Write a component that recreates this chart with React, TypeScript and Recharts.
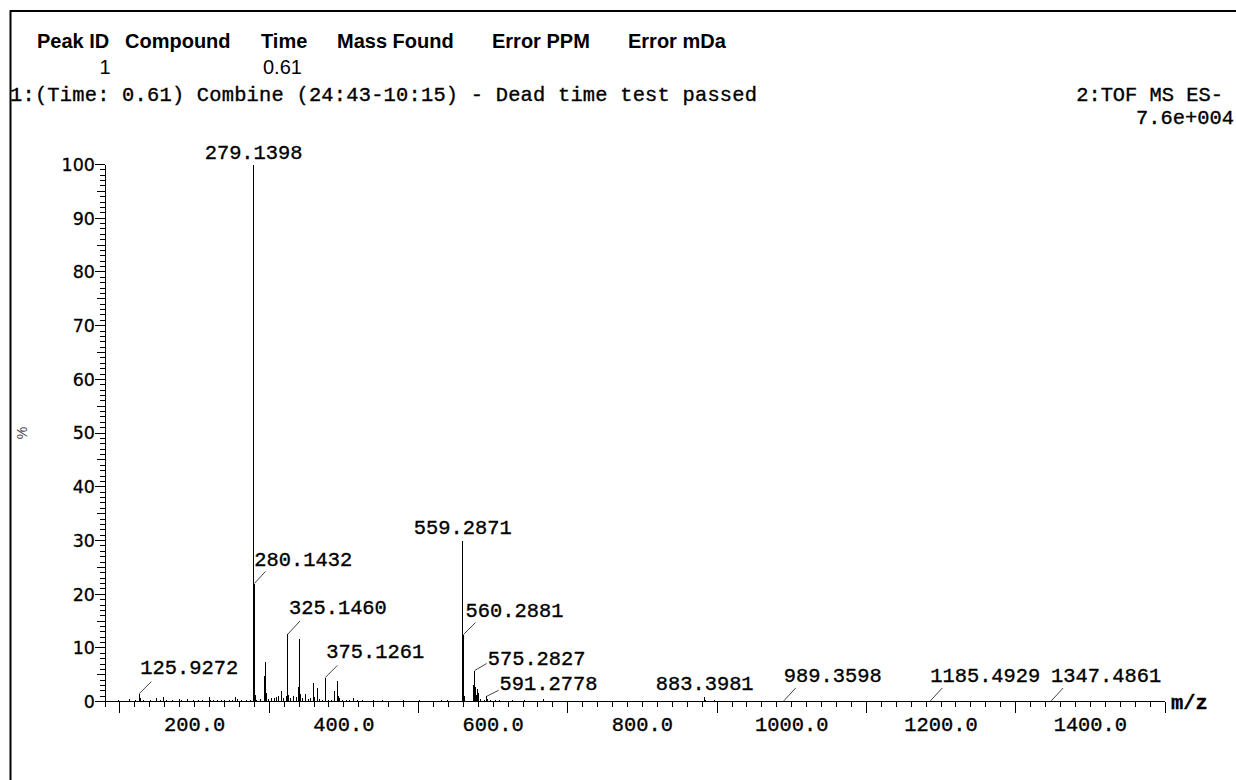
import React from 'react';
import { ComposedChart, Bar, XAxis, YAxis } from 'recharts';

const WIDTH = 1236;
const HEIGHT = 780;

const MONO = "'Liberation Mono', 'Courier New', monospace";
const SANS = "'Liberation Sans', Arial, sans-serif";
const TICK_SANS = "'DejaVu Sans', Verdana, sans-serif";

// Centroided spectrum: m/z of each stick
const peakMz: number[] = [
  88.0, 97.9, 104.5, 113.0, 121.0, 125.9272, 127.0, 131.0, 141.0, 149.0, 155.0, 159.0, 162.0,
  171.0, 180.5, 183.0, 190.0, 199.0, 205.0, 211.0, 219.7, 222.0, 225.0, 231.0, 236.0, 240.7,
  247.0, 251.0, 255.5, 258.0, 263.0, 270.0, 275.0,
  279.1398, 280.1432, 281.14, 283.0, 288.0, 293.5, 295.6, 296.6, 299.0, 303.0, 307.0, 310.0,
  313.0, 316.7, 319.0, 323.0, 325.146, 326.15, 329.0, 333.0, 336.0, 339.9, 341.2, 342.2, 345.0,
  348.0, 352.0, 356.0, 359.0, 360.5, 364.4, 368.0, 371.0, 375.1261, 376.1, 380.0, 384.0, 388.0,
  391.7, 392.7, 394.0, 398.0, 403.0, 408.0, 412.6, 418.0, 425.0, 432.0, 440.0, 452.0, 466.0,
  480.0, 492.0, 502.0, 520.0, 531.0, 539.5, 548.0,
  559.2871, 560.2881, 561.29, 573.4, 575.2827, 576.29, 577.3, 579.3, 581.0, 583.0, 589.0,
  591.2778, 592.3, 596.0, 603.0, 609.0, 617.0, 626.6, 634.0, 642.0, 650.0, 659.0, 667.0, 676.0,
  690.0, 705.0, 735.0, 761.0, 801.0, 858.0, 883.3981, 884.4, 897.0, 989.3598, 1185.4929,
  1347.4861,
];

// Relative intensity (%) of each stick, same order as peakMz
const peakIntensity: number[] = [
  0.2, 0.3, 0.2, 0.5, 0.3, 1.5, 0.6, 0.3, 0.3, 0.7, 0.3, 0.9, 0.4,
  0.3, 0.5, 0.3, 0.45, 0.3, 0.3, 0.3, 0.8, 0.4, 0.4, 0.3, 0.3, 0.35,
  0.3, 0.4, 0.8, 0.5, 0.3, 0.3, 0.3,
  100, 22.0, 1.3, 0.4, 0.5, 4.8, 7.3, 1.6, 0.5, 0.6, 0.7, 0.9,
  1.0, 1.9, 0.6, 1.0, 12.6, 1.2, 0.6, 1.0, 0.8, 2.8, 11.6, 1.5, 0.6,
  1.5, 0.5, 0.6, 3.4, 0.8, 2.5, 0.5, 0.4, 4.5, 1.0, 0.4, 0.4, 1.9,
  3.9, 1.0, 0.6, 0.4, 0.3, 0.3, 0.6, 0.3, 0.3, 0.2, 0.3, 0.3, 0.2,
  0.3, 0.2, 0.3, 0.2, 0.3, 0.3, 0.2,
  30.0, 12.5, 1.0, 3.1, 5.8, 2.8, 1.2, 2.3, 1.6, 0.5, 0.4,
  1.0, 0.5, 0.3, 0.3, 0.4, 0.2, 0.3, 0.2, 0.3, 0.2, 0.2, 0.5, 0.2,
  0.2, 0.2, 0.2, 0.2, 0.15, 0.2, 0.8, 0.3, 0.4, 0.15, 0.12,
  0.12,
];

// Peaks annotated with their m/z
const annotatedMz: string[] = [
  '125.9272', '279.1398', '280.1432', '325.1460', '375.1261', '559.2871', '560.2881',
  '575.2827', '591.2778', '883.3981', '989.3598', '1185.4929', '1347.4861',
];

// Where each annotation sits relative to the top of its stick
type Placement =
  | { kind: 'above'; dy: number }
  | { kind: 'leader'; lx: number; ly: number; tx: number; ty: number };

const annotationPlacement: Record<string, Placement> = {
  '125.9272': { kind: 'leader', lx: 12, ly: -12, tx: 1, ty: -20 },
  '279.1398': { kind: 'above', dy: -6 },
  '280.1432': { kind: 'leader', lx: 11, ly: -12, tx: 0, ty: -18 },
  '325.1460': { kind: 'leader', lx: 12, ly: -13, tx: 1, ty: -20 },
  '375.1261': { kind: 'leader', lx: 12, ly: -12, tx: 1, ty: -20 },
  '559.2871': { kind: 'above', dy: -7 },
  '560.2881': { kind: 'leader', lx: 12, ly: -12, tx: 2, ty: -18 },
  '575.2827': { kind: 'leader', lx: 12, ly: -7, tx: 13, ty: -6 },
  '591.2778': { kind: 'leader', lx: 12, ly: -6, tx: 13, ty: -6 },
  '883.3981': { kind: 'above', dy: -7 },
  '989.3598': { kind: 'leader', lx: 12, ly: -13, tx: 0, ty: -19 },
  '1185.4929': { kind: 'leader', lx: 12, ly: -13, tx: 0, ty: -19 },
  '1347.4861': { kind: 'leader', lx: 12, ly: -13, tx: 0, ty: -19 },
};

// Axis ticks
const xDomain: [number, number] = [80, 1500];
const xLabeledTicks: number[] = [200, 400, 600, 800, 1000, 1200, 1400];
const xTickStep = 20;
const yLabeledTicks: number[] = [0, 10, 20, 30, 40, 50, 60, 70, 80, 90, 100];
const yTickStep = 1;

const xTicks: number[] = [];
for (let v = xDomain[0]; v <= xDomain[1]; v += xTickStep) xTicks.push(v);
const yTicks: number[] = [];
for (let v = 0; v <= 100; v += yTickStep) yTicks.push(v);

const spectrum = peakMz.map((mz, i) => {
  const text = annotatedMz.find((a) => Math.abs(parseFloat(a) - mz) < 1e-6);
  return { mz, intensity: peakIntensity[i], label: text ?? '' };
});

// Shared look of the monospaced print text
const monoText = {
  fontFamily: MONO,
  fontSize: 20.4,
  fill: '#000',
  stroke: '#000',
  strokeWidth: 0.35,
};

const Stick = (props: any) => {
  const { x, y, width, height } = props;
  if (x == null || y == null) return null;
  const payload = props.payload ?? props;
  const cx = x + width / 2;
  const top = y;
  const bottom = y + height;
  const label: string = payload.label;
  const place = label ? annotationPlacement[label] : undefined;
  return (
    <g>
      <line x1={cx} x2={cx} y1={top} y2={bottom} stroke="#000" strokeWidth={1} shapeRendering="crispEdges" />
      {place && place.kind === 'above' && (
        <text x={cx} y={top + place.dy} textAnchor="middle" {...monoText}>
          {label}
        </text>
      )}
      {place && place.kind === 'leader' && (
        <g>
          <line x1={cx} y1={top} x2={cx + place.lx} y2={top + place.ly} stroke="#444" strokeWidth={1} />
          <text x={cx + place.tx} y={top + place.ty} {...monoText}>
            {label}
          </text>
        </g>
      )}
    </g>
  );
};

const XTick = (props: any) => {
  const { x, y, payload } = props;
  const v: number = payload.value;
  const len = v % 200 === 100 ? 11 : 5;
  const labeled = xLabeledTicks.includes(v);
  return (
    <g>
      <line x1={x} x2={x} y1={y} y2={y + len} stroke="#000" shapeRendering="crispEdges" />
      {labeled && (
        <text x={x} y={y + 29.5} textAnchor="middle" {...monoText}>
          {v.toFixed(1)}
        </text>
      )}
    </g>
  );
};

const YTick = (props: any) => {
  const { x, y, payload } = props;
  const v: number = payload.value;
  const labeled = yLabeledTicks.includes(v);
  const len = labeled ? 10 : v % 5 === 0 ? 8 : 5;
  return (
    <g>
      <line x1={x - len} x2={x} y1={y} y2={y} stroke="#000" shapeRendering="crispEdges" />
      {labeled && (
        <text
          x={x - 10}
          y={y}
          dy="0.36em"
          textAnchor="end"
          fontFamily={TICK_SANS}
          fontSize={17.5}
          fill="#000"
          stroke="#000"
          strokeWidth={0.3}
        >
          {v}
        </text>
      )}
    </g>
  );
};

const headerColumns: { text: string; x: number }[] = [
  { text: 'Peak ID', x: 37 },
  { text: 'Compound', x: 125 },
  { text: 'Time', x: 261 },
  { text: 'Mass Found', x: 337 },
  { text: 'Error PPM', x: 492 },
  { text: 'Error mDa', x: 628 },
];
const headerValues: { text: string; x: number }[] = [
  { text: '1', x: 99.5 },
  { text: '0.61', x: 263 },
];

export default function App() {
  return (
    <div
      style={{
        position: 'absolute',
        left: 0,
        top: 0,
        width: WIDTH,
        height: HEIGHT,
        overflow: 'hidden',
        background: '#fff',
      }}
    >
      <ComposedChart
        width={WIDTH}
        height={HEIGHT}
        data={spectrum}
        margin={{ top: 164.5, right: 71, bottom: 0, left: 0 }}
      >
        <XAxis
          dataKey="mz"
          type="number"
          domain={xDomain}
          ticks={xTicks}
          interval={0}
          height={78.3}
          tickLine={false}
          tickSize={0}
          tickMargin={0}
          tick={<XTick />}
          axisLine={{ stroke: '#000', shapeRendering: 'crispEdges' }}
        />
        <YAxis
          type="number"
          domain={[0, 100]}
          ticks={yTicks}
          interval={0}
          width={105}
          tickLine={false}
          tickSize={0}
          tickMargin={0}
          tick={<YTick />}
          axisLine={{ stroke: '#000', shapeRendering: 'crispEdges' }}
        />
        <Bar dataKey="intensity" barSize={1} shape={<Stick />} isAnimationActive={false} />
      </ComposedChart>

      <svg
        width={WIDTH}
        height={HEIGHT}
        style={{ position: 'absolute', left: 0, top: 0, pointerEvents: 'none' }}
      >
        <path d={`M10.5,${HEIGHT} V11 H${WIDTH}`} fill="none" stroke="#000" strokeWidth={2} />
        {headerColumns.map((c) => (
          <text key={c.text} x={c.x} y={47.5} fontFamily={SANS} fontWeight="bold" fontSize={20} fill="#000">
            {c.text}
          </text>
        ))}
        {headerValues.map((c) => (
          <text key={c.text} x={c.x} y={74} fontFamily={SANS} fontSize={20} fill="#000">
            {c.text}
          </text>
        ))}
        <text x={10} y={101} textLength={747} lengthAdjust="spacing" xmlSpace="preserve" {...monoText}>
          1:(Time: 0.61) Combine (24:43-10:15) - Dead time test passed
        </text>
        <text x={1223} y={101} textAnchor="end" {...monoText}>
          2:TOF MS ES-
        </text>
        <text x={1234} y={124} textAnchor="end" {...monoText}>
          7.6e+004
        </text>
        <text
          x={22}
          y={433}
          textAnchor="middle"
          dominantBaseline="central"
          transform="rotate(-90 22 433)"
          fontFamily={SANS}
          fontSize={14}
          fill="#445"
        >
          %
        </text>
        <text x={1171} y={709} {...monoText} fontWeight="bold">
          m/z
        </text>
      </svg>
    </div>
  );
}
